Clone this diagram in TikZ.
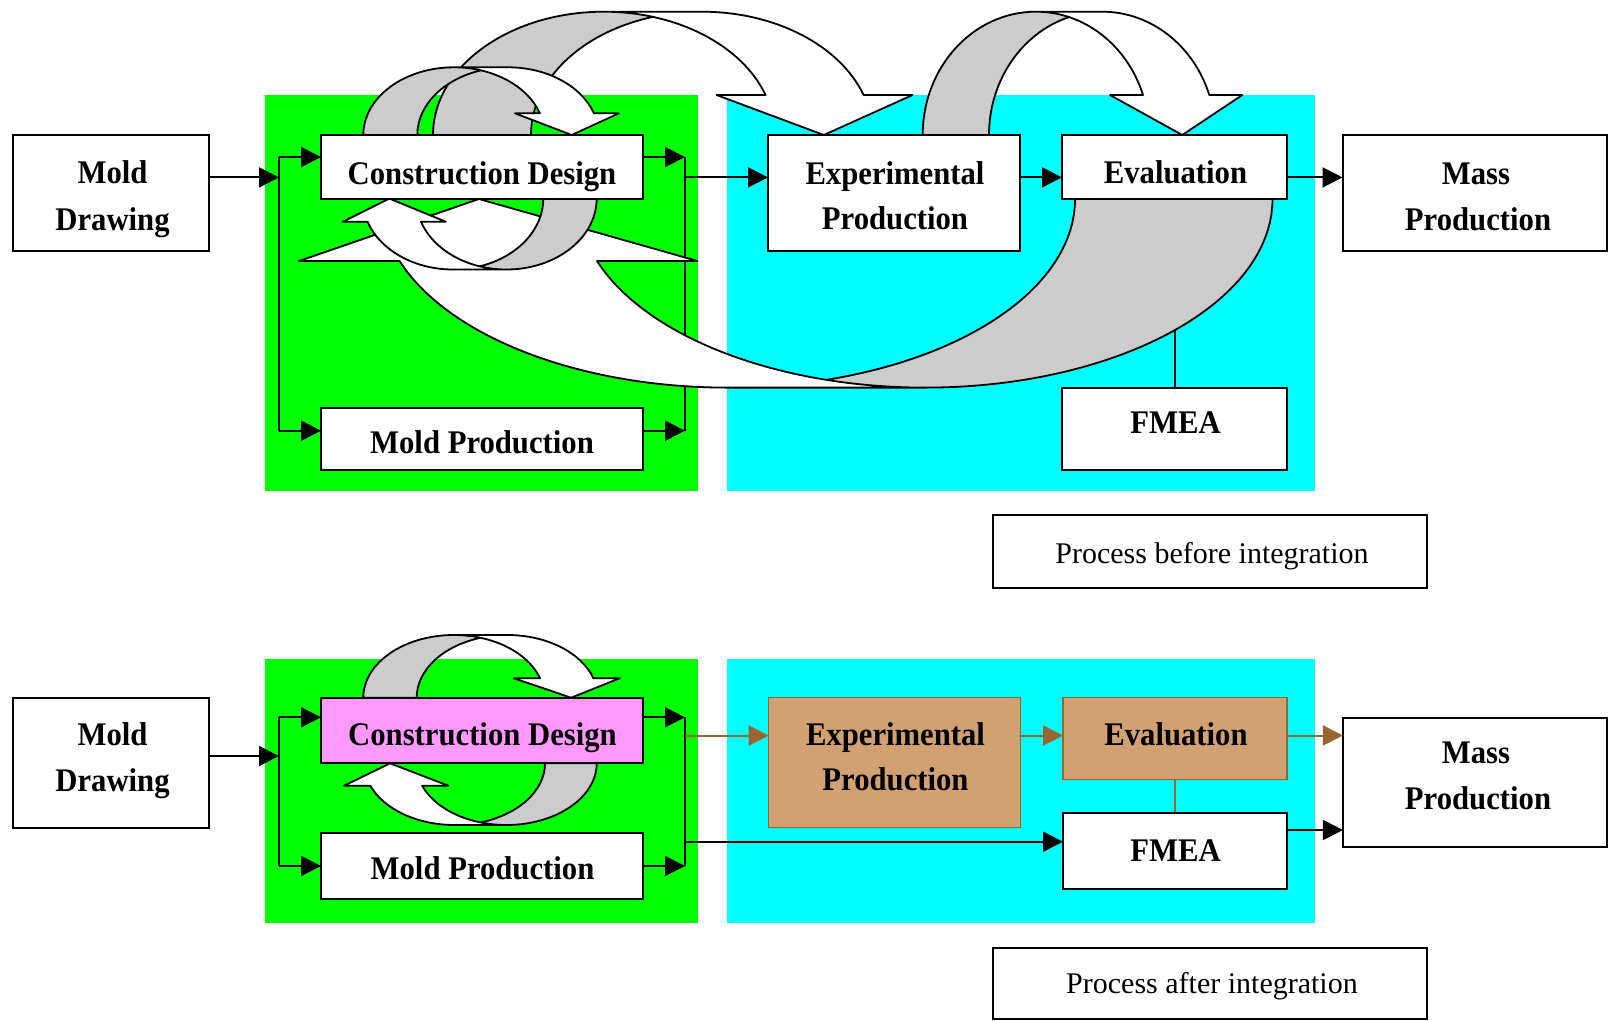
\documentclass[tikz,border=0pt]{standalone}
\usepackage{fontspec}
\setmainfont{Liberation Serif}
\newfontfamily\bfcond{Liberation Serif}[FakeStretch=0.93]
\usetikzlibrary{arrows.meta,calc}
\definecolor{grn}{RGB}{0,255,0}
\definecolor{cyn}{RGB}{0,255,255}
\definecolor{gry}{RGB}{204,204,204}
\definecolor{tanc}{RGB}{210,161,115}
\definecolor{brn}{RGB}{153,102,51}
\definecolor{pnk}{RGB}{255,153,255}
\pgfdeclarelayer{bg}
\pgfdeclarelayer{mid}
\pgfsetlayers{bg,mid,main}
\tikzset{
 box/.style={draw=black, line width=2pt, fill=white, inner sep=0pt, outer sep=0pt},
 tbox/.style={draw=brn, line width=1.6pt, fill=tanc, inner sep=0pt, outer sep=0pt},
 lbl/.style={inner sep=0pt, font=\bfcond\fontsize{33}{39}\selectfont\bfseries, anchor=base},
 plbl/.style={inner sep=0pt, font=\fontsize{30}{36}\selectfont, anchor=base},
 ln/.style={line width=2pt},
 arr/.style={line width=2pt, -{Triangle[length=20pt,width=20pt]}},
 barr/.style={line width=2pt, draw=brn, -{Triangle[length=20pt,width=20pt]}},
 cvback/.style={fill=gry},
 cvline/.style={draw=black, line width=1.8pt, line join=round},
}
% curved ribbon arrow: #1 l, #2 b, #3 h, #4 wR, #5 th, #6 ah, #7 aw, #8 orientation (1 or -1)
\newcommand\cvarr[8]{%
 \begin{scope}[shift={(#1,#2)}, xscale=#8, yscale={-1*(#8)}]
  \pgfmathsetmacro\cvPa{asin(#6/#3)}
  \pgfmathsetmacro\cvPi{acos(#5/(2*#4))}
  \pgfmathsetmacro\cvPj{180-\cvPi}
  \pgfmathsetmacro\cvXf{#4+#4*cos(\cvPa)}
  \pgfmathsetmacro\cvXs{\cvXf+#5}
  \pgfmathsetmacro\cvDh{(#7-#5)/2}
  \pgfmathsetmacro\cvXa{\cvXf-\cvDh}
  \pgfmathsetmacro\cvXb{\cvXs+\cvDh}
  \pgfmathsetmacro\cvXt{2*#4+#5/2}
  \pgfmathsetmacro\cvIx{#4+#5/2}
  \pgfmathsetmacro\cvIy{#3*sin(\cvPi)}
  \fill[cvback] (0,0) arc[start angle=180, end angle=\cvPi, x radius=#4, y radius=#3]
     arc[start angle=\cvPj, end angle=180, x radius=#4, y radius=#3] -- cycle;
  \fill[white] (\cvXt,0) -- (\cvXa,#6) -- (\cvXf,#6)
     arc[start angle=\cvPa, end angle=90, x radius=#4, y radius=#3] -- ++(#5,0)
     arc[start angle=90, end angle=\cvPa, x radius=#4, y radius=#3] -- (\cvXb,#6) -- cycle;
  \draw[cvline] (\cvIx,\cvIy) arc[start angle=\cvPj, end angle=180, x radius=#4, y radius=#3]
     -- (0,0) arc[start angle=180, end angle=90, x radius=#4, y radius=#3] -- ++(#5,0)
     arc[start angle=90, end angle=\cvPa, x radius=#4, y radius=#3] -- (\cvXb,#6) -- (\cvXt,0)
     -- (\cvXa,#6) -- (\cvXf,#6) arc[start angle=\cvPa, end angle=90, x radius=#4, y radius=#3];
 \end{scope}}
\begin{document}
\begin{tikzpicture}[x=1pt,y=-1pt]
\useasboundingbox (0,0) rectangle (1608,1020);
\begin{pgfonlayer}{bg}
 \fill[white] (0,0) rectangle (1608,1020);
 \fill[grn] (264.6,95.4) rectangle (698.4,491.2);
 \fill[cyn] (727,95.4) rectangle (1314.7,491.2);
 \fill[grn] (264.6,659.4) rectangle (698.4,923);
 \fill[cyn] (727,659.4) rectangle (1314.7,923);
\end{pgfonlayer}
% ---------- top boxes
\node[box, minimum width=196.5pt, minimum height=116pt] (md1) at (110.75,193) {};
\node[box, minimum width=322pt, minimum height=63.5pt] (cd1) at (482,166.75) {};
\node[box, minimum width=322pt, minimum height=62pt] (mp1) at (482,439) {};
\node[box, minimum width=252pt, minimum height=116pt] (ep1) at (894,193) {};
\node[box, minimum width=225pt, minimum height=64pt] (ev1) at (1174.5,167) {};
\node[box, minimum width=264.5pt, minimum height=116pt] (ms1) at (1474.75,193) {};
\node[box, minimum width=225pt, minimum height=82.4pt] (fm1) at (1174.5,428.8) {};
\node[box, minimum width=433.8pt, minimum height=72.8pt] (pb) at (1209.6,551.2) {};
\node[lbl] (md1a) at (112.5,183.3) {Mold};
\node[lbl] (md1b) at (112.5,230) {Drawing};
\node[lbl] (cd1t) at (482,184) {Construction Design};
\node[lbl] (mp1t) at (482,453) {Mold Production};
\node[lbl] (ep1a) at (895,184) {Experimental};
\node[lbl] (ep1b) at (895,229.3) {Production};
\node[lbl] (ev1t) at (1175.5,183.3) {Evaluation};
\node[lbl] (ms1a) at (1476,184) {Mass};
\node[lbl] (ms1b) at (1478,230) {Production};
\node[lbl] (fm1t) at (1175.5,433.3) {FMEA};
\node[plbl] (pbt) at (1212,563.3) {Process before integration};
% ---------- bottom boxes
\node[box, minimum width=196.5pt, minimum height=129.2pt] (md2) at (110.75,763) {};
\node[box, fill=pnk, minimum width=322pt, minimum height=65.6pt] (cd2) at (482,730.5) {};
\node[box, minimum width=322pt, minimum height=66pt] (mp2) at (482,866.3) {};
\node[tbox, minimum width=251.7pt, minimum height=130pt] (ep2) at (894.5,762.3) {};
\node[tbox, minimum width=224pt, minimum height=82pt] (ev2) at (1175,738.3) {};
\node[box, minimum width=224pt, minimum height=76pt] (fm2) at (1175,851.3) {};
\node[box, minimum width=264.2pt, minimum height=129.6pt] (ms2) at (1475,782.5) {};
\node[box, minimum width=433.8pt, minimum height=71.5pt] (pa) at (1209.6,983.3) {};
\node[lbl] (md2a) at (112.5,745.5) {Mold};
\node[lbl] (md2b) at (112.5,791) {Drawing};
\node[lbl] (cd2t) at (482.5,745) {Construction Design};
\node[lbl] (mp2t) at (482.5,879.3) {Mold Production};
\node[lbl] (ep2a) at (895.5,745) {Experimental};
\node[lbl] (ep2b) at (895.5,790.7) {Production};
\node[lbl] (ev2t) at (1176,745) {Evaluation};
\node[lbl] (fm2t) at (1175.5,861.7) {FMEA};
\node[lbl] (ms2a) at (1476,763.3) {Mass};
\node[lbl] (ms2b) at (1478,809.3) {Production};
\node[plbl] (pat) at (1212,993.3) {Process after integration};
\begin{pgfonlayer}{mid}
 % ---------- top connectors
 \coordinate (jLa) at (279,177.4);
 \coordinate (jLt) at (279,157);
 \coordinate (jLb) at (279,430.7);
 \coordinate (jRt) at (685,157);
 \coordinate (jRb) at (685,430.7);
 \coordinate (jRm) at (685,177.4);
 \draw[arr] (md1.east |- jLa) -- (jLa);
 \draw[ln] (jLt) -- (jLb);
 \draw[arr] (jLt) -- (jLt -| cd1.west);
 \draw[arr] (jLb) -- (jLb -| mp1.west);
 \draw[arr] (cd1.east |- jRt) -- (jRt);
 \draw[arr] (mp1.east |- jRb) -- (jRb);
 \draw[ln] (jRt) -- (jRb);
 \draw[arr] (jRm) -- (jRm -| ep1.west);
 \draw[arr] (ep1.east |- jRm) -- (ev1.west |- jRm);
 \draw[arr] (ev1.east |- jRm) -- (ms1.west |- jRm);
 \draw[ln] (ev1.south) -- (fm1.north);
 % ---------- bottom connectors
 \coordinate (kLa) at (279,756);
 \coordinate (kLt) at (279,717.3);
 \coordinate (kLb) at (279,866);
 \coordinate (kRt) at (685,717.3);
 \coordinate (kRb) at (685,866);
 \coordinate (kRm) at (685,735.5);
 \coordinate (kRf) at (685,841.7);
 \coordinate (kFm) at (1300,830);
 \draw[arr] (md2.east |- kLa) -- (kLa);
 \draw[ln] (kLt) -- (kLb);
 \draw[arr] (kLt) -- (kLt -| cd2.west);
 \draw[arr] (kLb) -- (kLb -| mp2.west);
 \draw[arr] (cd2.east |- kRt) -- (kRt);
 \draw[arr] (mp2.east |- kRb) -- (kRb);
 \draw[ln] (kRt) -- (kRb);
 \draw[barr] (kRm) -- (kRm -| ep2.west);
 \draw[barr] (ep2.east |- kRm) -- (ev2.west |- kRm);
 \draw[barr] (ev2.east |- kRm) -- (ms2.west |- kRm);
 \draw[ln, draw=brn] (ev2.south) -- (fm2.north);
 \draw[arr] (kRf) -- (kRf -| fm2.west);
 \draw[arr] (fm2.east |- kFm) -- (ms2.west |- kFm);
 % ---------- curved arrows
 \cvarr{433}{135}{123.3}{170.9}{98}{40}{196}{1}
 \cvarr{922.7}{135}{123.3}{113.2}{66.3}{40}{132.3}{1}
 \cvarr{1272.5}{199}{188.6}{347.4}{197.5}{62}{398.4}{-1}
 \cvarr{363.3}{135}{67.7}{90.7}{54}{21.7}{104}{1}
 \cvarr{596.7}{198.5}{71}{90.35}{53.4}{23.3}{103.3}{-1}
 \cvarr{363.3}{697.7}{62.7}{90.6}{53.4}{19.4}{105.7}{1}
 \cvarr{596.7}{763.3}{61.7}{90.4}{51.7}{22.4}{104.3}{-1}
\end{pgfonlayer}
\end{tikzpicture}
\end{document}
